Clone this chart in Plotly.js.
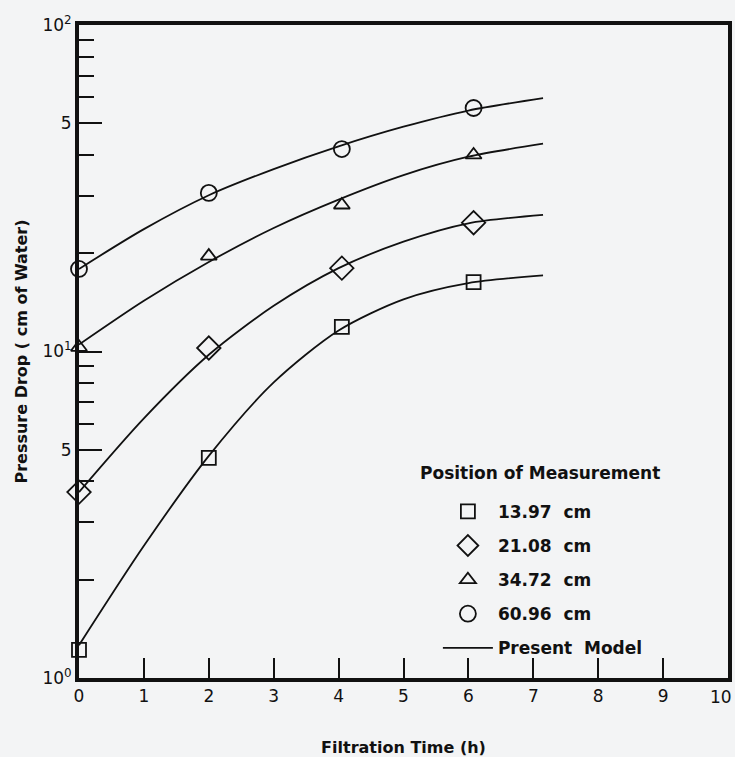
<!DOCTYPE html>
<html>
<head>
<meta charset="utf-8">
<script src="https://cdn.plot.ly/plotly-3.0.1.min.js"></script>
<style>html,body{margin:0;padding:0;background:#f3f4f5;}</style>
</head>
<body>
<div id="chart" style="width:735px;height:757px;"></div>
<script>
// Measured data (filtration time in h, pressure drop in cm of water)
const measTime = [0, 2.0, 4.05, 6.08];
const p1397 = [1.22, 4.72, 11.9, 16.3];
const p2108 = [3.71, 10.25, 18.0, 24.8];
const p3472 = [10.3, 19.6, 28.1, 40.0];
const p6096 = [17.9, 30.6, 41.7, 55.7];

// Present model curves
const modelTime = [0, 1, 2, 3, 4, 5, 6, 7.15];
const m1397 = [1.26, 2.54, 4.79, 8.04, 11.6, 14.45, 16.2, 17.1];
const m2108 = [3.71, 6.24, 9.77, 13.8, 18.0, 21.7, 24.7, 26.2];
const m3472 = [10.5, 14.3, 18.8, 23.9, 29.2, 34.7, 39.5, 43.3];
const m6096 = [17.9, 23.7, 30.1, 36.2, 42.5, 48.8, 54.7, 59.7];

const seriesNames = ["13.97\u00a0\u00a0cm", "21.08\u00a0\u00a0cm", "34.72\u00a0\u00a0cm", "60.96\u00a0\u00a0cm"];
const modelName = "Present\u00a0\u00a0Model";

const xTicks = [0,1,2,3,4,5,6,7,8,9,10];
const xTickText = ["0","1","2","3","4","5","6","7","8","9",""];
const lastXLabel = "10";
const yMajor = [1, 5, 10, 50, 100];
const yMajorText = ["10<sup>0</sup>", "5", "10<sup>1</sup>", "5", "10<sup>2</sup>"];
const yMinor = [2,3,4,6,7,8,9,20,30,40,60,70,80,90];

const FONT = "DejaVu Sans, Liberation Sans, sans-serif";
const INK = "#111111";

const markerSpecs = [
  {sym: "square-open", size: 14},
  {sym: "diamond-open", size: 18},
  {sym: "triangle-up-open", size: 14},
  {sym: "circle-open", size: 16}
];
const measSets = [p1397, p2108, p3472, p6096];
const modelSets = [m1397, m2108, m3472, m6096];

const traces = [];
measSets.forEach((vals, i) => {
  traces.push({
    x: measTime, y: vals, type: "scatter", mode: "markers",
    name: seriesNames[i], legendgroup: "g" + i,
    cliponaxis: false,
    marker: {symbol: markerSpecs[i].sym, size: markerSpecs[i].size,
             color: INK, line: {color: INK, width: 1.8}}
  });
});
modelSets.forEach((vals, i) => {
  traces.push({
    x: modelTime, y: vals, type: "scatter", mode: "lines",
    name: modelName, legendgroup: "model", showlegend: i === 0,
    line: {color: INK, width: 1.8, shape: "spline", smoothing: 0.8}
  });
});

const layout = {
  width: 735, height: 757,
  margin: {l: 79, r: 7, t: 25, b: 79},
  paper_bgcolor: "#f3f4f5", plot_bgcolor: "#f3f4f5",
  font: {family: FONT, color: INK, size: 16},
  showlegend: true,
  legend: {
    x: 0.553, y: 0.282, xanchor: "left", yanchor: "top",
    bgcolor: "rgba(0,0,0,0)", borderwidth: 0,
    font: {family: FONT, size: 17, color: INK, weight: "bold"},
    traceorder: "grouped", tracegroupgap: 9, itemwidth: 50
  },
  xaxis: {
    range: [0, 10], tickmode: "array", tickvals: xTicks, ticktext: xTickText,
    ticks: "inside", ticklen: 20, tickwidth: 2, tickcolor: INK,
    showline: true, linewidth: 4, linecolor: INK, mirror: true,
    showgrid: false, zeroline: false,
    tickfont: {family: FONT, size: 17, color: INK},
    title: {text: "Filtration Time (h)", font: {family: FONT, size: 16, color: INK, weight: "bold"}, standoff: 38}
  },
  yaxis: {
    type: "log", range: [0, 2], tickmode: "array",
    tickvals: yMajor, ticktext: yMajorText,
    ticks: "inside", ticklen: 23, tickwidth: 2, tickcolor: INK,
    minor: {tickmode: "array", tickvals: yMinor, ticks: "inside", ticklen: 15, tickwidth: 2, tickcolor: INK, showgrid: false},
    showline: true, linewidth: 4, linecolor: INK, mirror: true,
    showgrid: false, zeroline: false,
    tickfont: {family: FONT, size: 17, color: INK},
    title: {text: "Pressure Drop ( cm of Water)", font: {family: FONT, size: 16, color: INK, weight: "bold"}, standoff: 12}
  },
  annotations: [
    {
      text: "Position of Measurement", xref: "paper", yref: "paper",
      x: 0.71, y: 0.314, xanchor: "center", yanchor: "middle", showarrow: false,
      font: {family: FONT, size: 17, color: INK, weight: "bold"}
    },
    {
      text: lastXLabel, xref: "x", yref: "paper",
      x: 10, y: 0, xanchor: "right", yanchor: "top", xshift: 6, yshift: -7,
      showarrow: false, font: {family: FONT, size: 17, color: INK}
    }
  ]
};

Plotly.newPlot("chart", traces, layout, {displayModeBar: false, staticPlot: true});
</script>
</body>
</html>
